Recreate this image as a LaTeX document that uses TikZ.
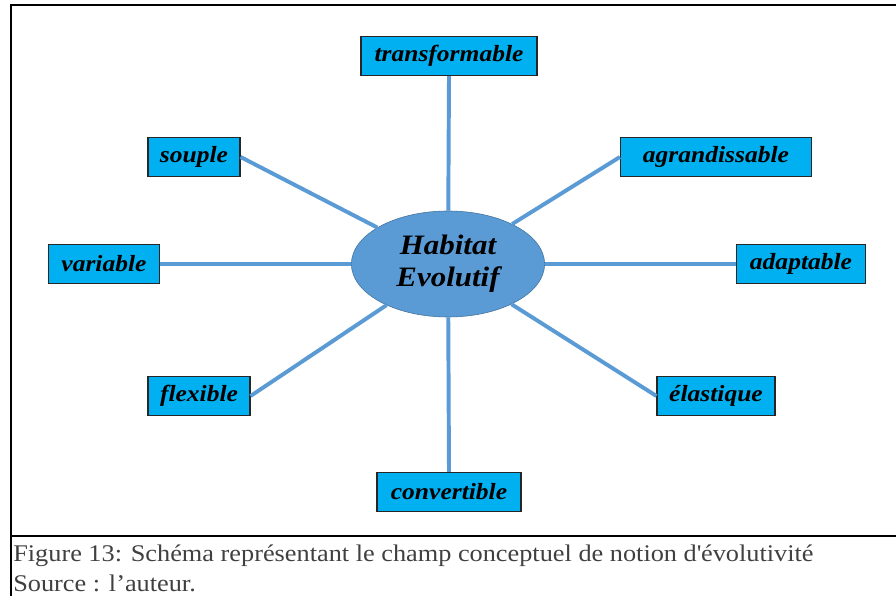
\documentclass[tikz,border=0pt]{standalone}
\usepackage{fontspec}
\setmainfont{Liberation Serif}[FakeStretch=1.1]
\usetikzlibrary{shapes.geometric}
\definecolor{boxcyan}{HTML}{00B0F0}
\definecolor{linkblue}{HTML}{5B9BD5}
\definecolor{hubline}{HTML}{41719C}
\definecolor{captiongray}{HTML}{404040}

\begin{document}
\begin{tikzpicture}[x=0.025cm,y=-0.025cm,
    box/.style={draw=black!85,fill=boxcyan,line width=0.8pt,minimum height=0.98cm,inner xsep=0.2cm,font=\fontsize{16.5}{19}\selectfont\bfseries\itshape},
    hub/.style={ellipse,draw=hubline,fill=linkblue,minimum width=4.83cm,minimum height=2.65cm,inner sep=0pt,align=center,font=\fontsize{20}{23}\selectfont\bfseries\itshape},
    link/.style={draw=linkblue,line width=2.8pt},
    caption/.style={anchor=base west,inner sep=0pt,text=captiongray,font=\fontsize{17}{20}\selectfont},
    ]
    \useasboundingbox (0,0) rectangle (896,596);
    \draw[line width=1.5pt] (11,596) -- (11,5) -- (896,5);
    \draw[line width=2pt] (11,536) -- (896,536);

    \node[hub] (hab) at (448,264) {Habitat\\Evolutif};
    \node[box,minimum width=4.4cm] (transformable) at (449,56) {transformable};
    \node[box,minimum width=2.3cm] (souple) at (194,157) {souple};
    \node[box,minimum width=4.775cm] (agrandissable) at (716,157) {agrandissable};
    \node[box,minimum width=2.775cm] (variable) at (104,264) {variable};
    \node[box,minimum width=3.225cm] (adaptable) at (801,264) {adaptable};
    \node[box,minimum width=2.55cm] (flexible) at (199,396) {flexible};
    \node[box,minimum width=2.95cm] (elastique) at (716,396) {élastique};
    \node[box,minimum width=3.6cm] (convertible) at (449,492) {convertible};

    \draw[link] (hab) -- (transformable.south);
    \draw[link] (hab) -- (souple.east);
    \draw[link] (hab) -- (agrandissable.west);
    \draw[link] (hab) -- (variable.east);
    \draw[link] (hab) -- (adaptable.west);
    \draw[link] (hab) -- (flexible.east);
    \draw[link] (hab) -- (elastique.west);
    \draw[link] (hab) -- (convertible.north);

    \node[caption] (fig) at (13,562) {Figure 13: Schéma représentant le champ conceptuel de notion d\textquotesingle évolutivité};
    \node[caption] (source) at (13,592) {Source : l’auteur.};
\end{tikzpicture}
\end{document}
